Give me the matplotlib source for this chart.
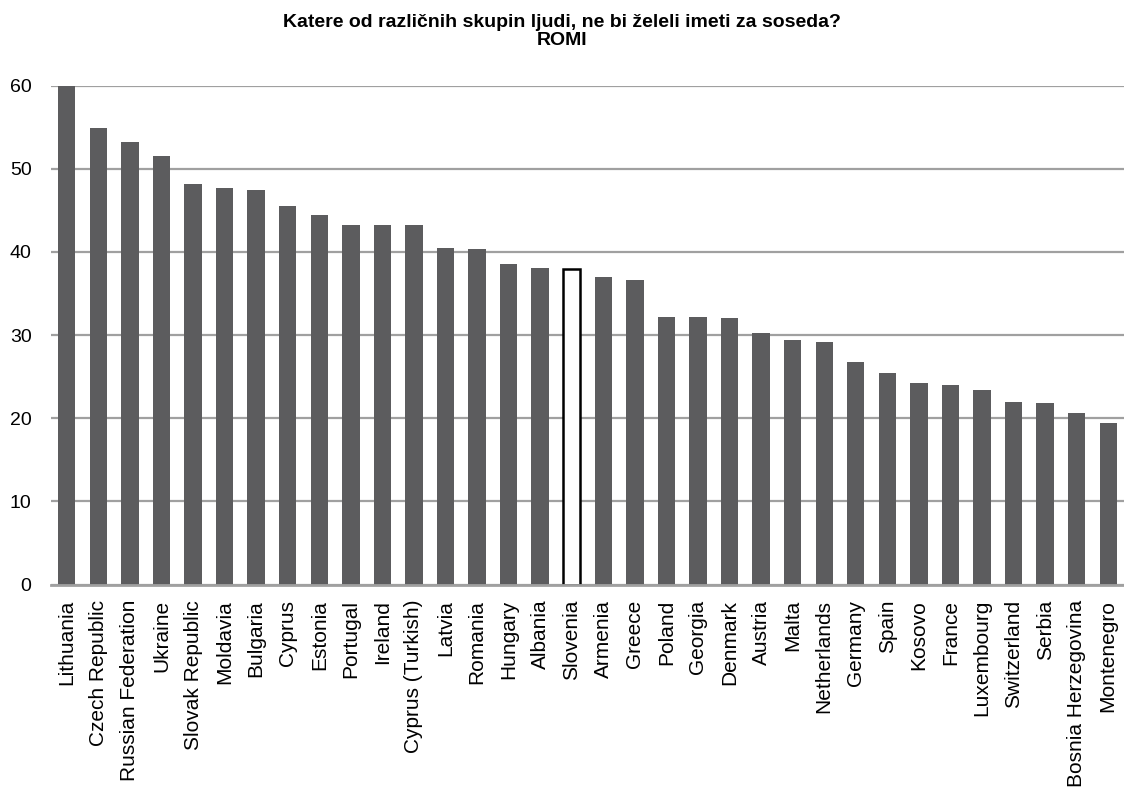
import matplotlib.pyplot as plt
import numpy as np

plt.rcParams['font.family'] = ['Liberation Sans', 'DejaVu Sans']

countries = ["Lithuania", "Czech Republic", "Russian Federation", "Ukraine", "Slovak Republic",
             "Moldavia", "Bulgaria", "Cyprus", "Estonia", "Portugal", "Ireland", "Cyprus (Turkish)",
             "Latvia", "Romania", "Hungary", "Albania", "Slovenia", "Armenia", "Greece", "Poland",
             "Georgia", "Denmark", "Austria", "Malta", "Netherlands", "Germany", "Spain", "Kosovo",
             "France", "Luxembourg", "Switzerland", "Serbia", "Bosnia Herzegovina", "Montenegro"]
values = [60.0, 54.9, 53.2, 51.6, 48.2, 47.7, 47.5, 45.5, 44.5, 43.3, 43.3, 43.3,
          40.5, 40.3, 38.5, 38.1, 38.0, 37.0, 36.6, 32.2, 32.2, 32.0, 30.2, 29.4,
          29.2, 26.8, 25.4, 24.2, 24.0, 23.4, 22.0, 21.8, 20.6, 19.4]
highlight = "Slovenia"

fig = plt.figure(figsize=(11.24, 7.96), dpi=100)
ax = fig.add_axes([0.0454, 0.2657, 0.9546, 0.6266])

x = np.arange(len(countries))
colors = ["white" if c == highlight else "#5c5c5e" for c in countries]
edges = ["black" if c == highlight else "#5c5c5e" for c in countries]
widths = [1.8 if c == highlight else 0 for c in countries]
ax.bar(x, values, width=0.55, color=colors, edgecolor=edges, linewidth=widths, zorder=3)

ax.set_xlim(-0.5, len(countries) - 0.5)
ax.set_ylim(0, 60)
ax.set_yticks(range(0, 61, 10))
ax.set_xticks(x)
ax.set_xticklabels(countries, rotation=90, fontsize=15)
ax.tick_params(axis='y', labelsize=14, length=0, pad=14)
ax.tick_params(axis='x', length=0, pad=11)
ax.grid(axis='y', color='#a0a0a0', linewidth=1.6, zorder=0)
for s in ['top', 'right', 'left']:
    ax.spines[s].set_visible(False)
ax.spines['bottom'].set_color('#a0a0a0')
ax.spines['bottom'].set_linewidth(2)
ax.spines['bottom'].set_zorder(4)

fig.text(0.5, 0.982, "Katere od različnih skupin ljudi, ne bi želeli imeti za soseda?\nROMI",
         ha='center', va='top', fontsize=14, fontweight='bold', linespacing=1.05)

fig.savefig("out.png", dpi=100)
